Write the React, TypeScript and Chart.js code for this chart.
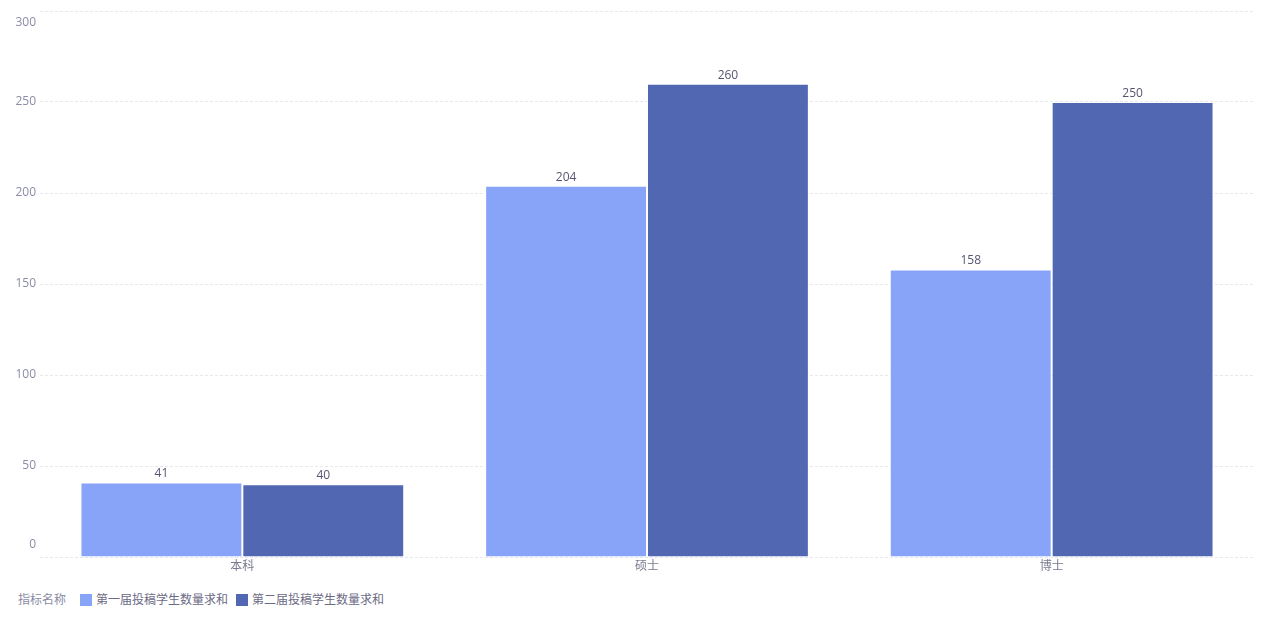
import React, { useEffect, useRef } from "react";
import { Chart, registerables } from "chart.js";

Chart.register(...registerables);

const categories = ["本科", "硕士", "博士"];
const series1Name = "第一届投稿学生数量求和";
const series2Name = "第二届投稿学生数量求和";
const series1 = [41, 204, 158];
const series2 = [40, 260, 250];
const yTicks = [0, 50, 100, 150, 200, 250, 300];
const legendTitle = "指标名称";

const C1 = "#87a4f8";
const C2 = "#5267b2";
const FONT = '"Open Sans", "Noto Sans CJK SC", "Noto Sans", sans-serif';

const labelsPlugin = {
  id: "customLabels",
  afterDatasetsDraw(chart: any) {
    const ctx = chart.ctx;
    const y = chart.scales.y;
    const x = chart.scales.x;
    const area = chart.chartArea;
    ctx.save();
    ctx.font = `12px ${FONT}`;
    ctx.fillStyle = "#8b8ba6";
    ctx.textAlign = "right";
    ctx.textBaseline = "middle";
    yTicks.forEach((v, i) => {
      let py = y.getPixelForValue(v);
      if (i === 0) py -= 12;
      if (i === yTicks.length - 1) py += 12;
      ctx.fillText(String(v), area.left - 4, py);
    });
    ctx.fillStyle = "#7a7a90";
    ctx.textAlign = "center";
    categories.forEach((c, i) => {
      ctx.fillText(c, x.getPixelForValue(i), area.bottom + 10);
    });
    ctx.fillStyle = "#55556f";
    ctx.textBaseline = "alphabetic";
    chart.data.datasets.forEach((ds: any, di: number) => {
      const meta = chart.getDatasetMeta(di);
      meta.data.forEach((bar: any, i: number) => {
        ctx.fillText(String(ds.data[i]), bar.x, bar.y - 5);
      });
    });
    ctx.restore();
  },
};

export default function App() {
  const ref = useRef<HTMLCanvasElement>(null);
  useEffect(() => {
    if (!ref.current) return;
    const chart = new Chart(ref.current, {
      type: "bar",
      data: {
        labels: categories,
        datasets: [
          { label: series1Name, data: series1, backgroundColor: C1, borderColor: "#ffffff", borderWidth: 1, categoryPercentage: 0.8, barPercentage: 1.0 },
          { label: series2Name, data: series2, backgroundColor: C2, borderColor: "#ffffff", borderWidth: 1, categoryPercentage: 0.8, barPercentage: 1.0 },
        ] as any,
      },
      options: {
        animation: false,
        responsive: false,
        maintainAspectRatio: false,
        layout: { padding: { left: 40, right: 14, top: 11, bottom: 15 } },
        plugins: { legend: { display: false }, tooltip: { enabled: false } },
        scales: {
          x: {
            grid: { display: false },
            border: { display: false },
            ticks: { display: false },
          },
          y: {
            min: 0,
            max: 300,
            ticks: { display: false, stepSize: 50 },
            border: { display: false, dash: [3, 2] },
            grid: { color: "#e6e8ee", lineWidth: 1, drawTicks: false, tickLength: 0 },
            afterFit(s: any) { s.width = 0; },
          } as any,
        },
      },
      plugins: [labelsPlugin],
    });
    return () => chart.destroy();
  }, []);

  return (
    <div style={{ position: "fixed", left: 0, top: 0, width: 1268, height: 618, background: "#fff", fontFamily: FONT }}>
      <canvas ref={ref} width={1268} height={580} style={{ display: "block", width: 1268, height: 580 }} />
      <div style={{ position: "absolute", left: 18, top: 591, display: "flex", alignItems: "center", fontSize: 12, lineHeight: "18px", color: "#6b6b85" }}>
        <span style={{ color: "#8b8ba6", marginRight: 14 }}>{legendTitle}</span>
        <span style={{ width: 12, height: 12, background: C1, display: "inline-block", marginRight: 4 }} />
        <span style={{ marginRight: 8 }}>{series1Name}</span>
        <span style={{ width: 12, height: 12, background: C2, display: "inline-block", marginRight: 4 }} />
        <span>{series2Name}</span>
      </div>
    </div>
  );
}
